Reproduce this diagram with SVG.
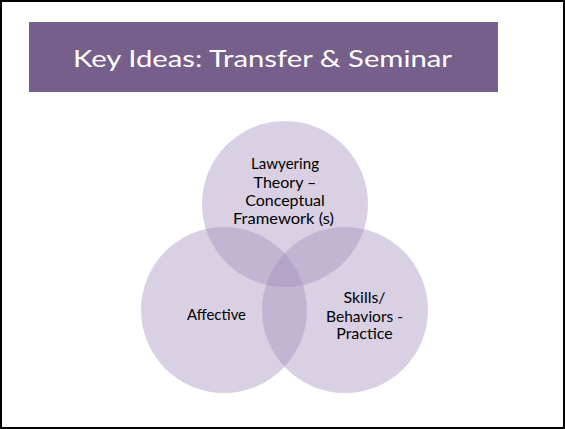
<svg xmlns="http://www.w3.org/2000/svg" width="565" height="429" viewBox="0 0 565 429">
<style>
.c{fill:#A08DBA;fill-opacity:0.4}
.t{font-family:Lato,"Open Sans","Liberation Sans",sans-serif;font-size:16px;fill:#000;text-anchor:middle}
.title{font-family:Lato,"Open Sans","Liberation Sans",sans-serif;font-size:22.5px;fill:#fff;text-anchor:middle}
</style>
<rect x="0" y="0" width="565" height="429" fill="#fff"/>
<rect x="1" y="1" width="563" height="427" fill="none" stroke="#000" stroke-width="2"/>
<g id="title">
<rect x="29" y="22" width="469" height="70" fill="#775F8B"/>
<text class="title" x="262.5" y="66.5" textLength="379" lengthAdjust="spacingAndGlyphs">Key Ideas: Transfer &amp; Seminar</text>
</g>
<g id="theory">
<circle class="c" cx="285" cy="204" r="83"/>
<text class="t" x="285" y="169" textLength="68" lengthAdjust="spacingAndGlyphs">Lawyering</text>
<text class="t" x="285" y="187.5">Theory –</text>
<text class="t" x="285" y="206">Conceptual</text>
<text class="t" x="283.5" y="224" textLength="101" lengthAdjust="spacingAndGlyphs">Framework (s)</text>
</g>
<g id="affective">
<circle class="c" cx="224" cy="310" r="83"/>
<text class="t" x="216.5" y="320" textLength="59" lengthAdjust="spacingAndGlyphs">Affective</text>
</g>
<g id="skills">
<circle class="c" cx="345" cy="310" r="83"/>
<text class="t" x="364.5" y="303.3">Skills/</text>
<text class="t" x="364.5" y="321.7" textLength="77" lengthAdjust="spacingAndGlyphs">Behaviors -</text>
<text class="t" x="364.5" y="339.3">Practice</text>
</g>
<g id="connectors"/>
</svg>
